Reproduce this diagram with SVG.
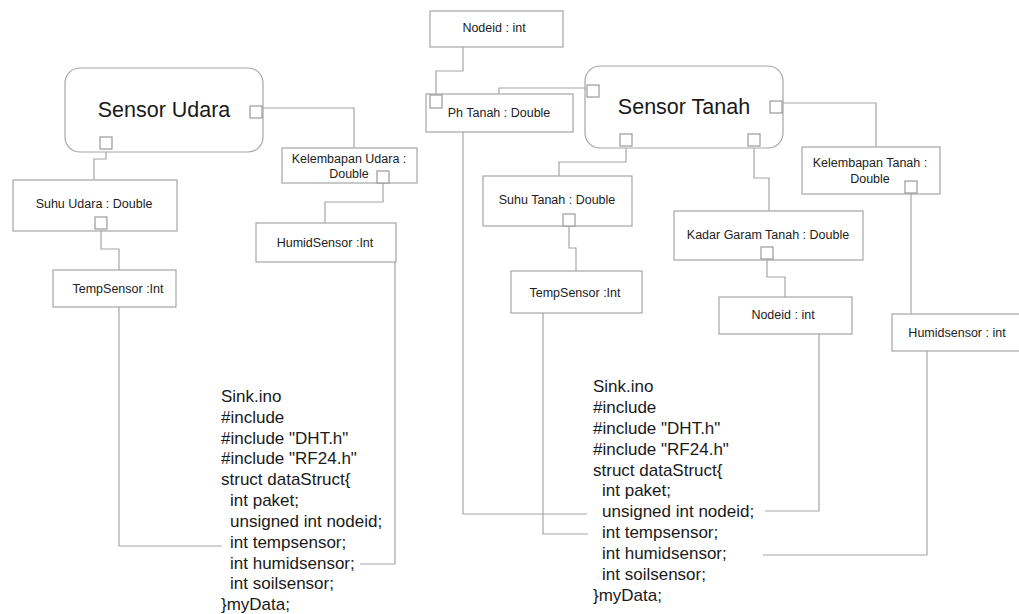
<svg xmlns="http://www.w3.org/2000/svg" width="1019" height="614" viewBox="0 0 1019 614">
  <style>
    .box { fill: #ffffff; stroke: #a6a6a6; stroke-width: 1.2; }
    .comp { fill: #ffffff; stroke: #a6a6a6; stroke-width: 1.2; }
    .port { fill: #ffffff; stroke: #9a9a9a; stroke-width: 1.2; }
    .wire { fill: none; stroke: #a6a6a6; stroke-width: 1.2; }
    .lbl { font-family: "Liberation Sans", Arial, sans-serif; font-size: 12.5px; fill: #222; text-anchor: middle; }
    .title { font-family: "Liberation Sans", Arial, sans-serif; font-size: 21.5px; fill: #1a1a1a; text-anchor: middle; }
    .code { font-family: "Liberation Sans", Arial, sans-serif; font-size: 17px; fill: #1a1a1a; }
  </style>
  <rect width="1019" height="614" fill="#ffffff"/>

  <!-- connectors -->
  <g id="connectors">
    <!-- Sensor Udara side -->
    <polyline class="wire" points="263,108 354,108 354,148"/>
    <polyline class="wire" points="106,149 106,159 94,159 94,180"/>
    <polyline class="wire" points="101,229 101,249 119,249 119,270"/>
    <polyline class="wire" points="119,307 119,546 222,546"/>
    <polyline class="wire" points="383,183 383,202 325,202 325,223"/>
    <polyline class="wire" points="395,252 395,564 360,564"/>
    <!-- Sensor Tanah side -->
    <polyline class="wire" points="463,47 463,71 436,71 436,95"/>
    <polyline class="wire" points="499,94 499,88 587,88"/>
    <polyline class="wire" points="463,132 463,514 587,514"/>
    <polyline class="wire" points="626,146 626,162 559,162 559,176"/>
    <polyline class="wire" points="569,226 569,248 576,248 576,271"/>
    <polyline class="wire" points="543,313 543,534 588,534"/>
    <polyline class="wire" points="754,146 754,178 769,178 769,211"/>
    <polyline class="wire" points="767,259 767,277 785,277 785,297"/>
    <polyline class="wire" points="819,334 819,511 765,511"/>
    <polyline class="wire" points="782,103 876,103 876,147"/>
    <polyline class="wire" points="911,193 911,314"/>
    <polyline class="wire" points="927,351 927,555 763,555"/>
  </g>

  <!-- Sensor Udara component -->
  <g id="sensor-udara">
    <rect class="comp" x="65" y="68" width="198" height="84" rx="15"/>
    <text class="title" x="164" y="117">Sensor Udara</text>
    <rect class="port" x="250" y="106" width="12" height="12"/>
    <rect class="port" x="100" y="137" width="12" height="12"/>
  </g>
  <g id="suhu-udara">
    <rect class="box" x="13" y="180" width="164" height="51"/>
    <text class="lbl" x="94" y="208">Suhu Udara : Double</text>
    <rect class="port" x="95" y="217" width="12" height="12"/>
  </g>
  <g id="tempsensor-udara">
    <rect class="box" x="53" y="270" width="123" height="37"/>
    <text class="lbl" x="118" y="293">TempSensor :Int</text>
  </g>
  <g id="kelembapan-udara">
    <rect class="box" x="282" y="148" width="135" height="35"/>
    <text class="lbl" x="349" y="163">Kelembapan Udara :</text>
    <text class="lbl" x="349" y="178">Double</text>
    <rect class="port" x="377" y="171" width="12" height="12"/>
  </g>
  <g id="humidsensor-udara">
    <rect class="box" x="256" y="223" width="140" height="39"/>
    <text class="lbl" x="325" y="247">HumidSensor :Int</text>
  </g>

  <!-- Sensor Tanah component -->
  <g id="nodeid-top">
    <rect class="box" x="430" y="11" width="133" height="36"/>
    <text class="lbl" x="494" y="32">Nodeid : int</text>
  </g>
  <g id="ph-tanah">
    <rect class="box" x="426" y="94" width="147" height="38"/>
    <rect class="port" x="430" y="95" width="12" height="13"/>
    <text class="lbl" x="499" y="117">Ph Tanah : Double</text>
  </g>
  <g id="sensor-tanah">
    <rect class="comp" x="585" y="66" width="198" height="82" rx="15"/>
    <text class="title" x="684" y="114">Sensor Tanah</text>
    <rect class="port" x="587" y="85" width="12" height="12"/>
    <rect class="port" x="770" y="101" width="12" height="12"/>
    <rect class="port" x="620" y="134" width="12" height="12"/>
    <rect class="port" x="748" y="134" width="12" height="12"/>
  </g>
  <g id="suhu-tanah">
    <rect class="box" x="483" y="176" width="149" height="50"/>
    <text class="lbl" x="557" y="204">Suhu Tanah : Double</text>
    <rect class="port" x="563" y="214" width="12" height="12"/>
  </g>
  <g id="tempsensor-tanah">
    <rect class="box" x="511" y="271" width="131" height="42"/>
    <text class="lbl" x="575" y="297">TempSensor :Int</text>
  </g>
  <g id="kadar-garam">
    <rect class="box" x="674" y="211" width="189" height="49"/>
    <text class="lbl" x="768" y="239">Kadar Garam Tanah : Double</text>
    <rect class="port" x="761" y="247" width="12" height="12"/>
  </g>
  <g id="nodeid-tanah">
    <rect class="box" x="719" y="297" width="133" height="37"/>
    <text class="lbl" x="783" y="319">Nodeid : int</text>
  </g>
  <g id="kelembapan-tanah">
    <rect class="box" x="802" y="147" width="138" height="47"/>
    <text class="lbl" x="870" y="167">Kelembapan Tanah :</text>
    <text class="lbl" x="870" y="183">Double</text>
    <rect class="port" x="905" y="181" width="12" height="12"/>
  </g>
  <g id="humidsensor-tanah">
    <rect class="box" x="892" y="314" width="140" height="37"/>
    <text class="lbl" x="957" y="337">Humidsensor : int</text>
  </g>

  <!-- Sink.ino listing, left -->
  <g id="sink-left" class="code">
    <text x="221" y="402">Sink.ino</text>
    <text x="221" y="423">#include</text>
    <text x="221" y="444">#include "DHT.h"</text>
    <text x="221" y="464">#include "RF24.h"</text>
    <text x="221" y="485">struct dataStruct{</text>
    <text x="230" y="506">int paket;</text>
    <text x="230" y="527">unsigned int nodeid;</text>
    <text x="230" y="548">int tempsensor;</text>
    <text x="230" y="569">int humidsensor;</text>
    <text x="230" y="589">int soilsensor;</text>
    <text x="221" y="610">}myData;</text>
  </g>

  <!-- Sink.ino listing, right -->
  <g id="sink-right" class="code">
    <text x="593" y="392">Sink.ino</text>
    <text x="593" y="413">#include</text>
    <text x="593" y="434">#include "DHT.h"</text>
    <text x="593" y="455">#include "RF24.h"</text>
    <text x="593" y="476">struct dataStruct{</text>
    <text x="602" y="496">int paket;</text>
    <text x="602" y="517">unsigned int nodeid;</text>
    <text x="602" y="538">int tempsensor;</text>
    <text x="602" y="559">int humidsensor;</text>
    <text x="602" y="580">int soilsensor;</text>
    <text x="593" y="601">}myData;</text>
  </g>
</svg>
